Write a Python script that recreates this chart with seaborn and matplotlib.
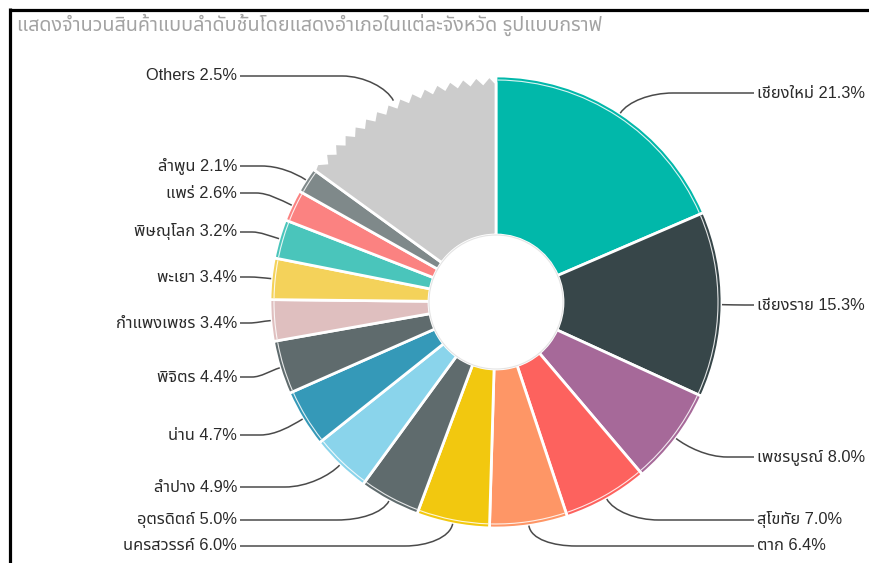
import numpy as np
import matplotlib
matplotlib.use("Agg")
import matplotlib.pyplot as plt
import seaborn as sns
from matplotlib import font_manager as fm
from matplotlib.patches import Polygon, Arc, Circle, PathPatch
from matplotlib.path import Path

# ---- data ---------------------------------------------------------------
provinces = ["เชียงใหม่", "เชียงราย", "เพชรบูรณ์", "สุโขทัย", "ตาก", "นครสวรรค์",
             "อุตรดิตถ์", "ลำปาง", "น่าน", "พิจิตร", "กำแพงเพชร", "พะเยา",
             "พิษณุโลก", "แพร่", "ลำพูน"]
shares = [21.3, 15.3, 8.0, 7.0, 6.4, 6.0, 5.0, 4.9, 4.7, 4.4, 3.4, 3.4, 3.2, 2.6, 2.1]
others_label = "Others"
others_share = 2.5
title = "แสดงจำนวนสินค้าแบบลำดับชั้นโดยแสดงอำเภอในแต่ละจังหวัด รูปแบบกราฟ"

# ---- styling / layout -----------------------------------------------------
slice_colors = ["#01B8AA", "#374649", "#A66999", "#FD625E", "#FE9666", "#F2C80F",
                "#5F6B6D", "#8AD4EB", "#3599B8", "#5F6B6D", "#DFBFBF", "#F4D25A",
                "#4AC5BB", "#FB8281", "#7F898A"]
others_color = "#CCCCCC"
W, H = 869, 563
CX, CY = 496, H - 302
R_OUT, R_IN = 226, 67
OTHERS_SPAN_DEG = 54          # "Others" is a broken (not-to-scale) sector
N_TEETH = 16
TOOTH_DEPTH = 7
# label baselines (pixel rows from top), in slice order, then Others
label_rows = [93, 305, 457, 520, 546, 546, 520, 487, 435, 377, 323, 277, 232, 193, 166]
others_row = 76
RIGHT_LINE_END, LEFT_LINE_END = 754, 240


def thai_family():
    try:
        from fontTools.ttLib import TTFont
    except Exception:
        return None
    found = []
    for entry in fm.fontManager.ttflist:
        try:
            f = TTFont(entry.fname, fontNumber=0, lazy=True)
            if 0x0E01 in f.getBestCmap():
                found.append(entry.name)
        except Exception:
            pass
    for pref in ["Noto Sans Thai", "Noto Sans Thai UI", "Loma", "Tlwg Typo", "Garuda",
                 "Sarabun", "Kinnari", "Norasi"]:
        if pref in found:
            return pref
    return found[0] if found else None


sns.set_theme(style="white")
thai = thai_family()
families = ["Liberation Sans"] + ([thai] if thai else []) + ["DejaVu Sans"]
plt.rcParams["font.family"] = families

fig = plt.figure(figsize=(W / 100, H / 100), dpi=100)
ax = fig.add_axes([0, 0, 1, 1])

palette = sns.color_palette(slice_colors)
others_weight = sum(shares) * OTHERS_SPAN_DEG / (360 - OTHERS_SPAN_DEG)
wedges, _ = ax.pie(shares + [others_weight], colors=list(palette) + [others_color],
                   startangle=90, counterclock=False, center=(CX, CY), radius=R_OUT,
                   wedgeprops=dict(width=R_OUT - R_IN, edgecolor="white", linewidth=2))

# broken (serrated) outer edge for the Others sector
ow = wedges[-1]
ow.set_visible(False)
t_lo, t_hi = ow.theta1, ow.theta2


def polar(a_deg, rr):
    return (CX + rr * np.cos(np.radians(a_deg)), CY + rr * np.sin(np.radians(a_deg)))


pts = [polar(a, R_IN) for a in np.linspace(t_lo, t_hi, 40)]
step = (t_hi - t_lo) / N_TEETH
pts.append(polar(t_hi, R_OUT - 2))
for k in range(N_TEETH):
    a0 = t_hi - k * step
    pts.append(polar(a0 - 0.5 * step, R_OUT))
    pts.append(polar(a0 - step, R_OUT - TOOTH_DEPTH))
ax.add_patch(Polygon(pts, closed=True, facecolor=others_color, edgecolor="white",
                     linewidth=2, zorder=1))

# thin inner rim on each named slice
for w in wedges[:-1]:
    ax.add_patch(Arc((CX, CY), 2 * (R_OUT - 4), 2 * (R_OUT - 4), theta1=w.theta1 + 0.4,
                     theta2=w.theta2 - 0.4, color="white", lw=0.8, alpha=0.85, zorder=3))
ax.add_patch(Circle((CX, CY), R_IN, facecolor="none", edgecolor="#E4E4E4", lw=0.8, zorder=3))

# leader lines + labels
texts = [f"{p} {v:.1f}%" for p, v in zip(provinces, shares)] + [f"{others_label} {others_share:.1f}%"]
rows = label_rows + [others_row]
for w, txt, row in zip(wedges, texts, rows):
    m = np.radians((w.theta1 + w.theta2) / 2)
    ux, uy = np.cos(m), np.sin(m)
    side = 1 if ux > 0 else -1
    ly = H - row
    p0 = (CX + R_OUT * ux, CY + R_OUT * uy)
    end = (RIGHT_LINE_END if side > 0 else LEFT_LINE_END, ly)
    gap = abs(end[0] - p0[0])
    lift = min(14, 0.25 * gap)
    p1 = (p0[0] + lift * ux, p0[1] + lift * uy)
    run = min(45, 0.6 * abs(end[0] - p1[0]))
    p2 = (p1[0] + side * run * 0.5, ly)
    p3 = (p1[0] + side * run, ly)
    path = Path([p0, p1, p2, p3, end],
                [Path.MOVETO, Path.CURVE4, Path.CURVE4, Path.CURVE4, Path.LINETO])
    ax.add_patch(PathPatch(path, facecolor="none", edgecolor="#4A4A4A", lw=1.1, zorder=4))
    ax.text(end[0] + side * 3, ly, txt, ha="left" if side > 0 else "right", va="center",
            fontsize=11.8, color="#2A2A2A", zorder=5)

ax.text(17, H - 25, title, ha="left", va="center", fontsize=14.2, color="#A3A3A3")

# frame edges
ax.plot([9.5, W], [H - 9.5, H - 9.5], color="black", lw=2.3, solid_capstyle="butt")
ax.plot([9.5, 9.5], [0, H - 8], color="black", lw=2.3, solid_capstyle="butt")

ax.set_xlim(0, W)
ax.set_ylim(0, H)
ax.set_aspect("equal")
ax.axis("off")
fig.savefig("out.png", dpi=100, facecolor="white")
